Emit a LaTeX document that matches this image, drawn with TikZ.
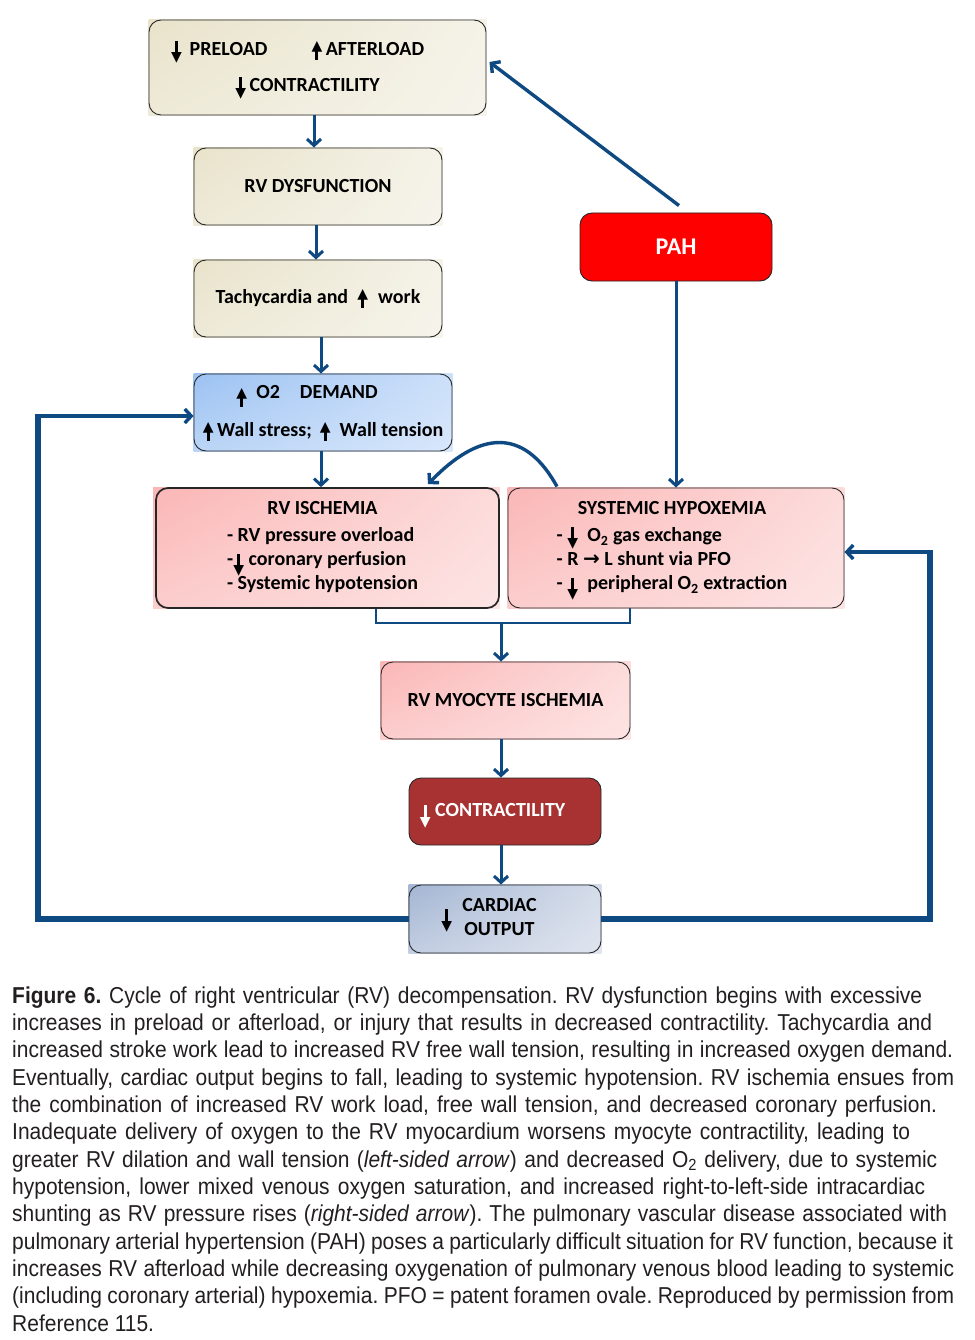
\documentclass[tikz,border=0pt]{standalone}
\usepackage{fontspec}
\newfontfamily\boxfont{Carlito}
\newfontfamily\capfont{Liberation Sans}[FakeStretch=0.912]
\newfontfamily\arrowfont{DejaVu Sans}
\usetikzlibrary{arrows.meta,shadings}
\definecolor{arrowblue}{RGB}{14,73,130}
\definecolor{beigeA}{RGB}{233,227,203}
\definecolor{beigeB}{RGB}{246,244,235}
\definecolor{pinkA}{RGB}{251,182,182}
\definecolor{pinkB}{RGB}{253,228,228}
\definecolor{blueA}{RGB}{156,194,242}
\definecolor{blueB}{RGB}{216,231,251}
\definecolor{greyA}{RGB}{164,182,211}
\definecolor{greyB}{RGB}{224,229,239}
\definecolor{contrred}{RGB}{168,50,50}
\definecolor{captext}{RGB}{35,31,32}
\pgfdeclarelayer{bg}\pgfsetlayers{bg,main}
\newcommand\bxfont{\boxfont\bfseries\fontsize{20}{22}\selectfont}
\newcommand\dn{\makebox[11pt]{\makebox[0pt]{\raisebox{3pt}[0pt][0pt]{\rule{3pt}{12pt}}}\makebox[0pt]{\raisebox{-6pt}[0pt][0pt]{\arrowfont\fontsize{14}{14}\selectfont ▼}}}}
\newcommand\up{\makebox[11pt]{\makebox[0pt]{\raisebox{-4pt}[0pt][0pt]{\rule{3pt}{12pt}}}\makebox[0pt]{\raisebox{5pt}[0pt][0pt]{\arrowfont\fontsize{14}{14}\selectfont ▲}}}}
\newcommand\ra{{\arrowfont\bfseries →}}
\newcommand\capline[2]{\makebox[#1pt][s]{#2}}
\frenchspacing
\begin{document}
\begin{tikzpicture}[x=1pt,y=-1pt,
  box/.style={draw=black!85, line width=0.9pt, rounded corners=12pt, inner sep=0pt, align=center, font=\bxfont, text=black},
  flow/.style={draw=arrowblue, line width=3pt, -{Straight Barb[length=6.5pt,width=14pt]}},
  loopline/.style={draw=arrowblue, line width=6pt, line join=miter},
  bracket/.style={draw=arrowblue, line width=1.1pt},
  captionline/.style={anchor=base west, inner sep=0pt, font=\capfont\fontsize{23}{27}\selectfont\frenchspacing, text=captext}]
\useasboundingbox (0,0) rectangle (974,1340);

% boxes
\node[box, minimum width=337pt, minimum height=95pt] (top) at (317.5,67.5)
  {\dn\ \,PRELOAD\hspace{44pt}\up\,AFTERLOAD\hspace*{40pt}\\[14pt]\dn\,CONTRACTILITY\hspace*{20pt}};
\node[box, minimum width=248pt, minimum height=77pt] (dys) at (318,186.5) {RV DYSFUNCTION};
\node[box, minimum width=248pt, minimum height=77pt] (tachy) at (318,298.5) {Tachycardia and\hspace{9pt}\up\hspace{10pt}work};
\node[box, minimum width=258pt, minimum height=77pt] (o2) at (323,412.5)
  {\raisebox{-4pt}{\up}\ \ O2\quad DEMAND\hspace*{32pt}\\[16pt]\up\,Wall stress;\ \,\up\ \ Wall tension};
\node[box, line width=1.7pt, minimum width=343pt, minimum height=120pt] (isch) at (327.5,548)
  {\begin{tabular}{@{}l@{}}\multicolumn{1}{@{}c@{}}{RV ISCHEMIA}\\[5pt]
   - RV pressure overload\\[2pt]
   -\raisebox{-3pt}[0pt][0pt]{\dn}\ coronary perfusion\\[2pt]
   - Systemic hypotension\end{tabular}\hspace*{10pt}};
\node[box, minimum width=336pt, minimum height=120pt] (hypox) at (676,548)
  {\begin{tabular}{@{}l@{}}\multicolumn{1}{@{}c@{}}{SYSTEMIC HYPOXEMIA}\\[5pt]
   - \dn\ \ O\textsubscript{2} gas exchange\\[2pt]
   - R \ra\ L shunt via PFO\\[2pt]
   - \raisebox{-3pt}{\dn}\ \ peripheral O\textsubscript{2} extraction\end{tabular}\hspace*{8pt}};
\node[box, minimum width=192pt, minimum height=68pt, fill=red, font=\boxfont\bfseries\fontsize{24}{28}\selectfont, text=white] (pah) at (676,247) {PAH};
\node[box, minimum width=249pt, minimum height=77pt] (myo) at (505.5,700.5) {RV MYOCYTE ISCHEMIA};
\node[box, minimum width=192pt, minimum height=67pt, fill=contrred, text=white] (contr) at (505,811.5)
  {\raisebox{-4pt}{\dn}\ CONTRACTILITY\hspace*{25pt}};
\node[box, minimum width=192pt, minimum height=68pt] (card) at (505,919)
  {\dn\hspace{10pt}\begin{tabular}{@{}c@{}}CARDIAC\\[2pt]OUTPUT\end{tabular}\hspace*{32pt}};

% white page and sharp-cornered fills behind
\begin{pgfonlayer}{bg}
\fill[white] (0,0) rectangle (974,1340);
\shade[upper left=beigeA, upper right=beigeB!90!beigeA, lower left=beigeA!60!beigeB, lower right=beigeB] (top.south west) rectangle (top.north east);
\shade[upper left=beigeA, upper right=beigeB!90!beigeA, lower left=beigeA!60!beigeB, lower right=beigeB] (dys.south west) rectangle (dys.north east);
\shade[upper left=beigeA, upper right=beigeB!90!beigeA, lower left=beigeA!60!beigeB, lower right=beigeB] (tachy.south west) rectangle (tachy.north east);
\shade[upper left=blueA, upper right=blueB!80!blueA, lower left=blueA!50!blueB, lower right=blueB] (o2.south west) rectangle (o2.north east);
\shade[upper left=pinkA, upper right=pinkB!80!pinkA, lower left=pinkA!50!pinkB, lower right=pinkB] ([xshift=-2pt]isch.south west) rectangle (isch.north east);
\shade[upper left=pinkA, upper right=pinkB!80!pinkA, lower left=pinkA!50!pinkB, lower right=pinkB] (hypox.south west) rectangle (hypox.north east);
\shade[upper left=pinkA, upper right=pinkB!80!pinkA, lower left=pinkA!50!pinkB, lower right=pinkB] (myo.south west) rectangle (myo.north east);
\shade[upper left=greyA, upper right=greyB!80!greyA, lower left=greyA!50!greyB, lower right=greyB] (card.south west) rectangle (card.north east);
\end{pgfonlayer}

% vertical flow arrows
\draw[flow] ([xshift=-3.5pt]top.south) -- ([xshift=-3.5pt]top.south |- dys.north);
\draw[flow] ([xshift=-2pt]dys.south) -- ([xshift=-2pt]dys.south |- tachy.north);
\draw[flow] ([xshift=3pt]tachy.south) -- ([xshift=3pt]tachy.south |- o2.north);
\draw[flow] ([xshift=-2pt]o2.south) -- ([xshift=-2pt]o2.south |- isch.north);
\draw[flow] (pah.south) -- (pah.south |- hypox.north);
\draw[flow, line width=3.4pt] ([xshift=3pt,yshift=7pt]pah.north) -- ([xshift=3pt,yshift=5.5pt]top.east);
\draw[flow, line width=3.4pt] ([xshift=-119pt,yshift=1pt]hypox.north) .. controls (528,434) and (486,424) .. ([xshift=100.5pt,yshift=3pt]isch.north);

% bracket joining the two boxes
\coordinate (bl) at (376,623);
\coordinate (br) at (630,623);
\coordinate (bm) at (501,623);
\draw[bracket] (isch.south -| bl) -- (bl) -- (br) -- (hypox.south -| br);
\draw[flow] (bm) -- (bm |- myo.north);
\draw[flow] ([xshift=-4.5pt]myo.south) -- ([xshift=-4.5pt]myo.south |- contr.north);
\draw[flow] ([xshift=-4pt]contr.south) -- ([xshift=-4pt]contr.south |- card.north);

% feedback loops
\coordinate (lt) at (37.5,416);
\coordinate (rt) at (929.5,552);
\draw[loopline] (card.west) -- (card.west -| lt) -- ([yshift=2pt]lt);
\draw[flow, line width=3.4pt] ([xshift=-3pt]lt) -- (o2.west |- lt);
\draw[loopline] (card.east) -- (card.east -| rt) -- ([yshift=2pt]rt);
\draw[flow, line width=3.4pt] ([xshift=3pt]rt) -- (hypox.east |- rt);

% caption
\node[captionline] (c1) at (12,1003) {\capline{910}{\textbf{Figure 6.} Cycle of right ventricular (RV) decompensation. RV dysfunction begins with excessive}};
\node[captionline] (c2) at (12,1030.35) {\capline{920}{increases in preload or afterload, or injury that results in decreased contractility. Tachycardia and}};
\node[captionline] (c3) at (12,1057.7) {\capline{941}{increased stroke work lead to increased RV free wall tension, resulting in increased oxygen demand.}};
\node[captionline] (c4) at (12,1085.05) {\capline{942}{Eventually, cardiac output begins to fall, leading to systemic hypotension. RV ischemia ensues from}};
\node[captionline] (c5) at (12,1112.4) {\capline{925}{the combination of increased RV work load, free wall tension, and decreased coronary perfusion.}};
\node[captionline] (c6) at (12,1139.75) {\capline{898}{Inadequate delivery of oxygen to the RV myocardium worsens myocyte contractility, leading to}};
\node[captionline] (c7) at (12,1167.1) {\capline{925}{greater RV dilation and wall tension (\textit{left-sided arrow}) and decreased O\textsubscript{2} delivery, due to systemic}};
\node[captionline] (c8) at (12,1194.45) {\capline{913}{hypotension, lower mixed venous oxygen saturation, and increased right-to-left-side intracardiac}};
\node[captionline] (c9) at (12,1221.8) {\capline{935}{shunting as RV pressure rises (\textit{right-sided arrow}). The pulmonary vascular disease associated with}};
\node[captionline] (c10) at (12,1249.15) {\capline{941}{pulmonary arterial hypertension (PAH) poses a particularly difficult situation for RV function, because it}};
\node[captionline] (c11) at (12,1276.5) {\capline{942}{increases RV afterload while decreasing oxygenation of pulmonary venous blood leading to systemic}};
\node[captionline] (c12) at (12,1303.85) {\capline{942}{(including coronary arterial) hypoxemia. PFO = patent foramen ovale. Reproduced by permission from}};
\node[captionline] (c13) at (12,1331.2) {Reference 115.};
\end{tikzpicture}
\end{document}
